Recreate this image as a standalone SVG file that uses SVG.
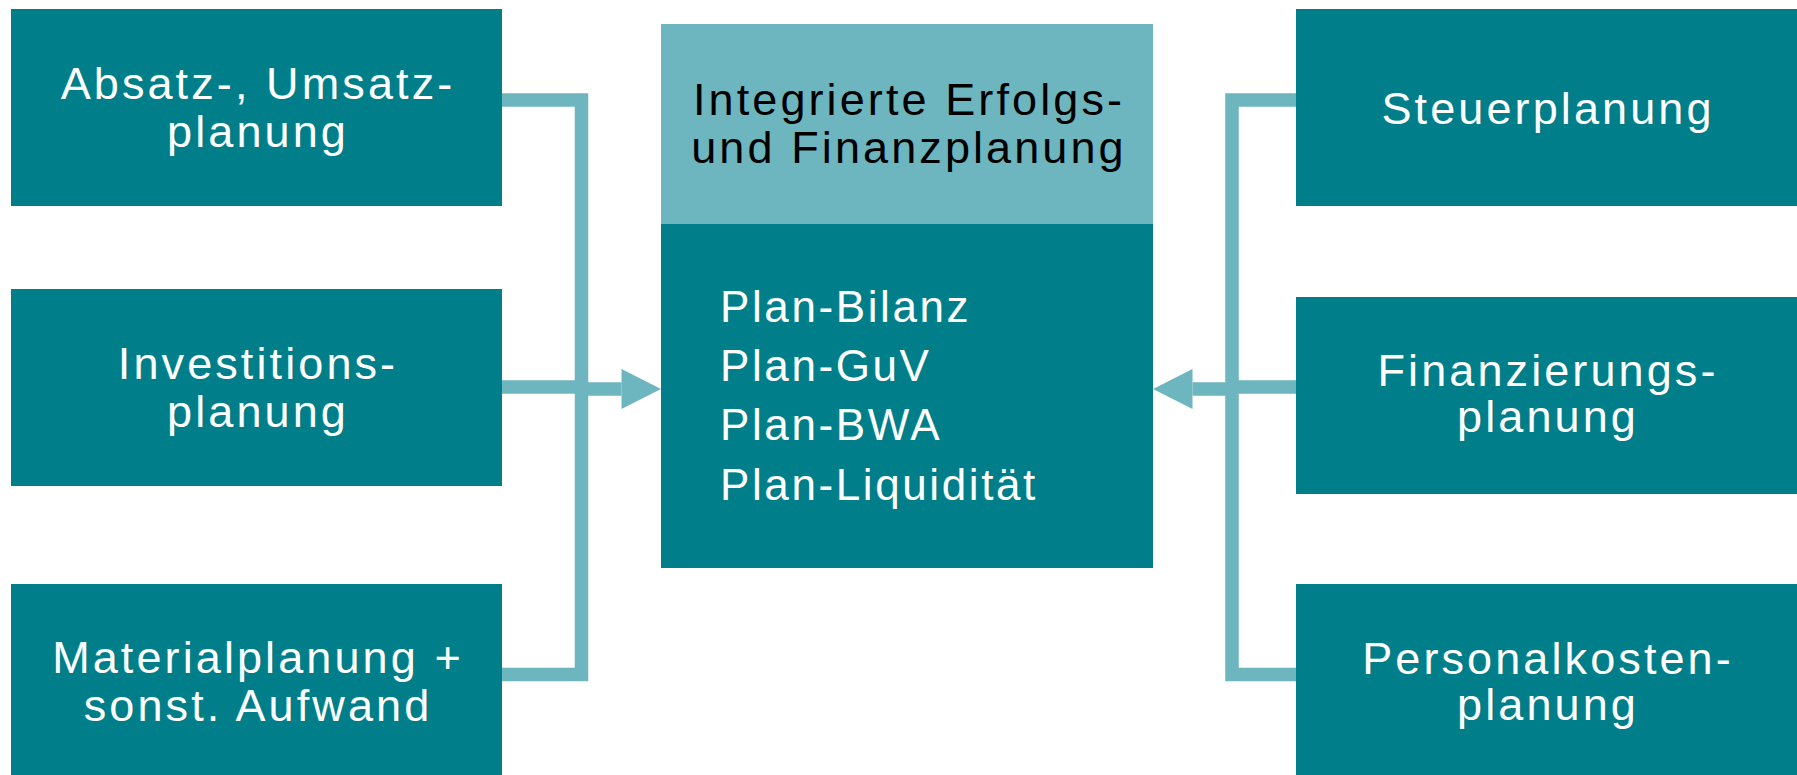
<svg xmlns="http://www.w3.org/2000/svg" width="1797" height="775" viewBox="0 0 1797 775">
<style>
.box{fill:#007F8A}
.hdr{fill:#6DB5BF}
.t{font-family:"Liberation Sans",Arial,sans-serif;font-size:45px;letter-spacing:3.1px;fill:#FFFFFF;text-anchor:middle}
.h{fill:#000000}
.p{font-family:"Liberation Sans",Arial,sans-serif;font-size:44px;letter-spacing:2.6px;fill:#FFFFFF}
.c{fill:none;stroke:#6DB5BF;stroke-width:13.5;stroke-linejoin:miter;stroke-linecap:butt}
</style>
<defs>
<marker id="ah" markerUnits="userSpaceOnUse" markerWidth="40" markerHeight="40" viewBox="0 -20 40 40" refX="0" refY="0" orient="auto" overflow="visible">
<path d="M0,-20 L39.5,0 L0,20 Z" fill="#6DB5BF"/>
</marker>
</defs>
<rect width="1797" height="775" fill="#FFFFFF"/>
<g id="connectors">
<polyline class="c" points="502,100 581.5,100 581.5,674.5 502,674.5"/>
<line class="c" x1="502" y1="387" x2="576" y2="387"/>
<line class="c" x1="581" y1="389" x2="621.5" y2="389" marker-end="url(#ah)"/>
<polyline class="c" points="1296,100 1232,100 1232,674.5 1296,674.5"/>
<line class="c" x1="1296" y1="387" x2="1226" y2="387"/>
<line class="c" x1="1232" y1="389" x2="1192.5" y2="389" marker-end="url(#ah)"/>
</g>
<g id="absatz">
<rect class="box" x="11" y="9" width="491" height="197"/>
<text class="t" x="258" y="99">Absatz-, Umsatz-</text>
<text class="t" x="258" y="147">planung</text>
</g>
<g id="investition">
<rect class="box" x="11" y="289" width="491" height="197"/>
<text class="t" x="258" y="379">Investitions-</text>
<text class="t" x="258" y="427">planung</text>
</g>
<g id="material">
<rect class="box" x="11" y="584" width="491" height="191"/>
<text class="t" x="258" y="673">Materialplanung +</text>
<text class="t" x="258" y="721">sonst. Aufwand</text>
</g>
<g id="integriert">
<rect class="box" x="661" y="24" width="492" height="544"/>
<rect class="hdr" x="661" y="24" width="492" height="200"/>
<text class="t h" x="909" y="115">Integrierte Erfolgs-</text>
<text class="t h" x="909" y="163">und Finanzplanung</text>
<text class="p" x="720" y="322">Plan-Bilanz</text>
<text class="p" x="720" y="381">Plan-GuV</text>
<text class="p" x="720" y="440">Plan-BWA</text>
<text class="p" x="720" y="500">Plan-Liquidität</text>
</g>
<g id="steuer">
<rect class="box" x="1296" y="9" width="501" height="197"/>
<text class="t" x="1548" y="123.5">Steuerplanung</text>
</g>
<g id="finanzierung">
<rect class="box" x="1296" y="297" width="501" height="197"/>
<text class="t" x="1548" y="386">Finanzierungs-</text>
<text class="t" x="1548" y="432">planung</text>
</g>
<g id="personal">
<rect class="box" x="1296" y="584" width="501" height="191"/>
<text class="t" x="1548" y="674">Personalkosten-</text>
<text class="t" x="1548" y="720">planung</text>
</g>
</svg>
